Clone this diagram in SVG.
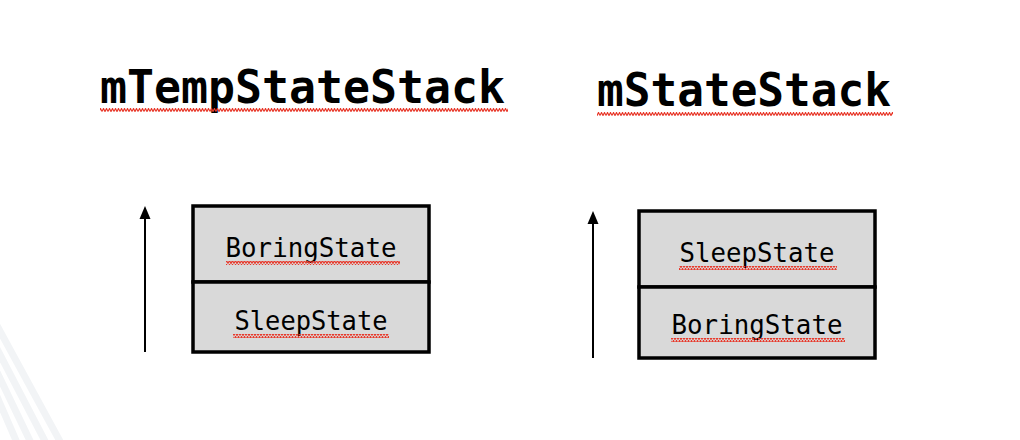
<svg xmlns="http://www.w3.org/2000/svg" width="1020" height="440" viewBox="0 0 1020 440">
<defs>
<pattern id="wave" width="6" height="4" patternUnits="userSpaceOnUse">
<polyline points="0,3.5 1.5,0.5 3,3.5 4.5,0.5 6,3.5" fill="none" stroke="#e8392b" stroke-width="1.2"/>
</pattern>
</defs>
<style>
.title{font-family:"DejaVu Sans Mono","Liberation Mono",monospace;font-weight:bold;font-size:46px;fill:#000}
.lbl{font-family:"DejaVu Sans Mono","Liberation Mono",monospace;font-size:27px;fill:#000}
.box{fill:#d9d9d9;stroke:#000;stroke-width:3.5}
.conn{stroke:#000;stroke-width:2;fill:none}
.head{fill:#000}
.stripe{stroke:#f2f4f6;stroke-width:7;fill:none}
</style>
<rect width="1020" height="440" fill="#fff"/>
<g id="bg">
<line class="stripe" x1="-5" y1="322" x2="62" y2="445"/>
<line class="stripe" x1="-5" y1="345" x2="47" y2="445"/>
<line class="stripe" x1="-5" y1="368" x2="32" y2="445"/>
<line class="stripe" x1="-5" y1="392" x2="18" y2="445"/>
</g>
<g id="title-temp">
<text class="title" x="100" y="103" textLength="405" lengthAdjust="spacingAndGlyphs">mTempStateStack</text>
<rect x="100" y="108" width="408" height="4" fill="url(#wave)"/>
</g>
<g id="title-state">
<text class="title" x="597" y="106" textLength="294" lengthAdjust="spacingAndGlyphs">mStateStack</text>
<rect x="597" y="112" width="296" height="4" fill="url(#wave)"/>
</g>
<g id="connectors">
<line class="conn" x1="145" y1="352" x2="145" y2="216"/>
<polygon class="head" points="145,206 139.5,219 150.5,219"/>
<line class="conn" x1="593" y1="358" x2="593" y2="221"/>
<polygon class="head" points="593,211 587.5,224 598.5,224"/>
</g>
<g id="temp-boring">
<rect class="box" x="193" y="206" width="236" height="76"/>
<text class="lbl" x="311" y="257" text-anchor="middle" textLength="171" lengthAdjust="spacingAndGlyphs">BoringState</text>
<rect x="226" y="261" width="174" height="4" fill="url(#wave)"/>
</g>
<g id="temp-sleep">
<rect class="box" x="193" y="282" width="236" height="70"/>
<text class="lbl" x="311" y="330" text-anchor="middle" textLength="153" lengthAdjust="spacingAndGlyphs">SleepState</text>
<rect x="233" y="334" width="156" height="4" fill="url(#wave)"/>
</g>
<g id="state-sleep">
<rect class="box" x="639" y="211" width="236" height="76"/>
<text class="lbl" x="757" y="262" text-anchor="middle" textLength="155" lengthAdjust="spacingAndGlyphs">SleepState</text>
<rect x="679" y="266" width="158" height="4" fill="url(#wave)"/>
</g>
<g id="state-boring">
<rect class="box" x="639" y="287" width="236" height="71"/>
<text class="lbl" x="757" y="334" text-anchor="middle" textLength="171" lengthAdjust="spacingAndGlyphs">BoringState</text>
<rect x="671" y="338" width="174" height="4" fill="url(#wave)"/>
</g>
</svg>
